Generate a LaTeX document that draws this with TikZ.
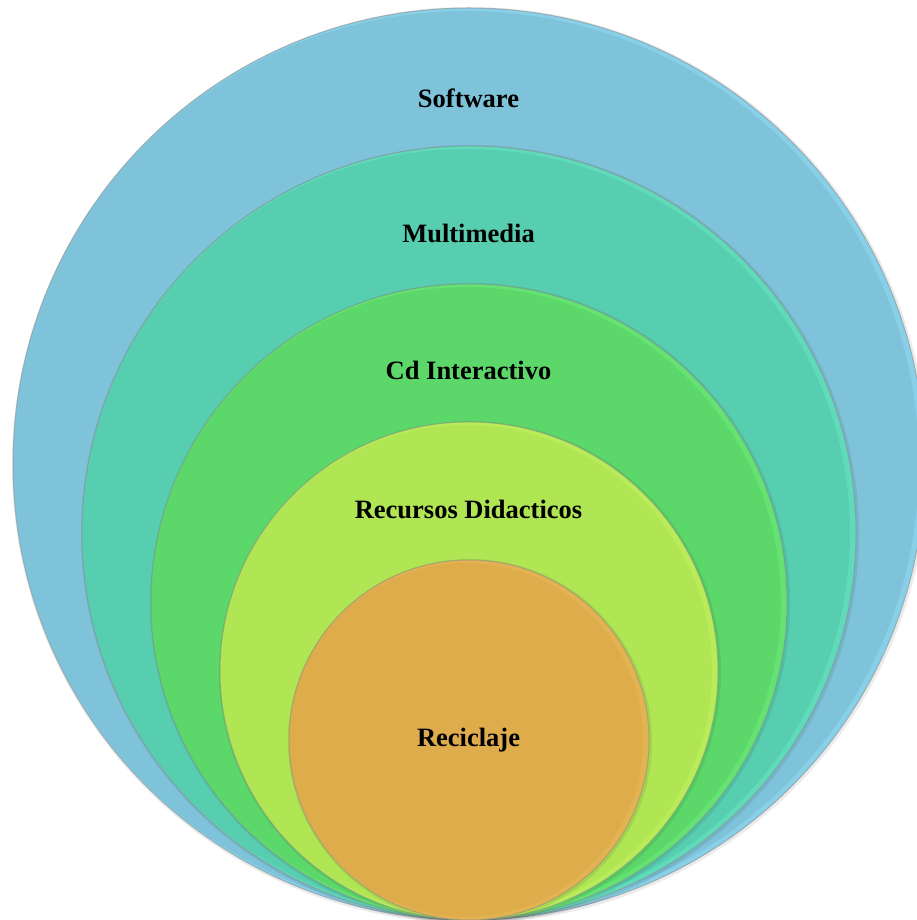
\documentclass[tikz,border=0pt]{standalone}
\usepackage{fontspec}
\setmainfont{Liberation Serif}
\begin{document}
\begin{tikzpicture}[x=1pt,y=1pt,
  lbl/.style={font=\fontsize{26.5}{30}\selectfont\bfseries, text=black, inner sep=0pt},
  rim/.style={line width=1pt, draw=black!45, draw opacity=0.55}]
\useasboundingbox (0,0) rectangle (917,920);
\clip (0,0) rectangle (917,920);
\definecolor{cSoft}{HTML}{7FC3DB}\definecolor{cSoftL}{HTML}{92E2F7}
\definecolor{cMulti}{HTML}{58CEB0}\definecolor{cMultiL}{HTML}{6AEDC8}
\definecolor{cCd}{HTML}{5CD86A}\definecolor{cCdL}{HTML}{6EF27D}
\definecolor{cRec}{HTML}{B0E553}\definecolor{cRecL}{HTML}{C4F562}
\definecolor{cRecl}{HTML}{DFAC4B}\definecolor{cReclL}{HTML}{ECBD5A}
% circles, all tangent at the bottom
\foreach \r/\c/\cl in {456/cSoft/cSoftL, 387/cMulti/cMultiL, 318/cCd/cCdL, 249/cRec/cRecL, 180/cRecl/cReclL}{
  \fill[black, opacity=0.08] (470,\r-1) circle (\r+2);
  \fill[\c] (469,\r) circle (\r);
  \begin{scope}
    \clip (469,\r) circle (\r);
    \draw[\cl, line width=6pt, opacity=0.45] (466,\r) circle (\r);
  \end{scope}
  \draw[rim] (469,\r) circle (\r);
}
\node[lbl] (soft) at (468.5,822) {Software};
\node[lbl] (multi) at (468.5,687) {Multimedia};
\node[lbl] (cd) at (468.5,550) {Cd Interactivo};
\node[lbl] (recur) at (468.5,411) {Recursos Didacticos};
\node[lbl] (recic) at (468.5,180) {Reciclaje};
\end{tikzpicture}
\end{document}
